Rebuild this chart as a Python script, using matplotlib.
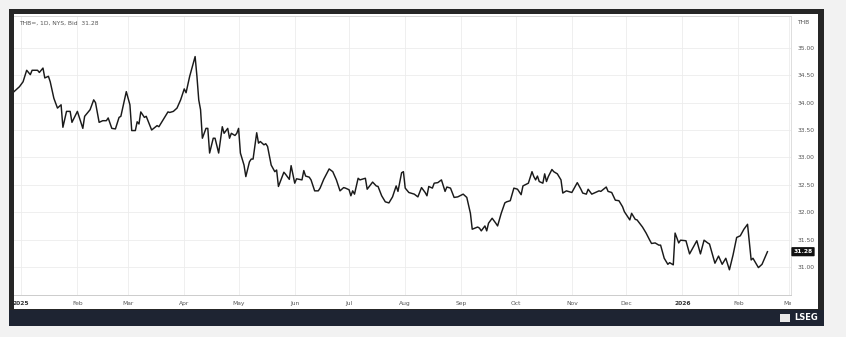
import pandas as pd
import matplotlib
matplotlib.use("Agg")
import matplotlib.pyplot as plt
from matplotlib.patches import Rectangle
from matplotlib.transforms import Bbox, TransformedBbox

# THB= daily bid
dates = [
    "2024-12-28", "2024-12-31", "2025-01-02", "2025-01-04", "2025-01-06", "2025-01-07", "2025-01-10", "2025-01-11", "2025-01-13", "2025-01-14",
    "2025-01-16", "2025-01-17", "2025-01-19", "2025-01-21", "2025-01-23", "2025-01-24", "2025-01-26", "2025-01-28", "2025-01-29", "2025-02-01",
    "2025-02-04", "2025-02-05", "2025-02-08", "2025-02-10", "2025-02-11", "2025-02-13", "2025-02-15", "2025-02-17", "2025-02-18", "2025-02-20",
    "2025-02-22", "2025-02-24", "2025-02-25", "2025-02-28", "2025-03-02", "2025-03-03", "2025-03-05", "2025-03-06", "2025-03-07", "2025-03-08",
    "2025-03-10", "2025-03-11", "2025-03-14", "2025-03-17", "2025-03-18", "2025-03-21", "2025-03-23", "2025-03-24", "2025-03-26", "2025-03-28",
    "2025-03-30", "2025-04-01", "2025-04-02", "2025-04-04", "2025-04-07", "2025-04-08", "2025-04-09", "2025-04-10", "2025-04-11", "2025-04-13",
    "2025-04-14", "2025-04-15", "2025-04-17", "2025-04-18", "2025-04-20", "2025-04-22", "2025-04-23", "2025-04-25", "2025-04-26", "2025-04-27",
    "2025-04-29", "2025-04-30", "2025-05-01", "2025-05-02", "2025-05-04", "2025-05-05", "2025-05-07", "2025-05-08", "2025-05-09", "2025-05-11",
    "2025-05-12", "2025-05-13", "2025-05-15", "2025-05-16", "2025-05-17", "2025-05-19", "2025-05-21", "2025-05-22", "2025-05-23", "2025-05-26",
    "2025-05-27", "2025-05-29", "2025-05-30", "2025-06-01", "2025-06-02", "2025-06-05", "2025-06-06", "2025-06-07", "2025-06-09", "2025-06-10",
    "2025-06-12", "2025-06-14", "2025-06-15", "2025-06-17", "2025-06-20", "2025-06-22", "2025-06-24", "2025-06-26", "2025-06-28", "2025-06-29",
    "2025-07-01", "2025-07-02", "2025-07-03", "2025-07-04", "2025-07-06", "2025-07-07", "2025-07-10", "2025-07-11", "2025-07-14", "2025-07-16",
    "2025-07-17", "2025-07-19", "2025-07-21", "2025-07-23", "2025-07-25", "2025-07-27", "2025-07-28", "2025-07-30", "2025-07-31", "2025-08-01",
    "2025-08-03", "2025-08-06", "2025-08-08", "2025-08-10", "2025-08-12", "2025-08-13", "2025-08-14", "2025-08-16", "2025-08-17", "2025-08-19",
    "2025-08-21", "2025-08-23", "2025-08-24", "2025-08-26", "2025-08-28", "2025-08-30", "2025-09-02", "2025-09-04", "2025-09-06", "2025-09-07",
    "2025-09-10", "2025-09-11", "2025-09-12", "2025-09-14", "2025-09-15", "2025-09-16", "2025-09-18", "2025-09-20", "2025-09-21", "2025-09-23",
    "2025-09-25", "2025-09-26", "2025-09-28", "2025-09-30", "2025-10-02", "2025-10-04", "2025-10-05", "2025-10-08", "2025-10-10", "2025-10-11",
    "2025-10-12", "2025-10-13", "2025-10-14", "2025-10-16", "2025-10-17", "2025-10-18", "2025-10-19", "2025-10-21", "2025-10-22", "2025-10-24",
    "2025-10-26", "2025-10-27", "2025-10-29", "2025-11-01", "2025-11-04", "2025-11-06", "2025-11-07", "2025-11-09", "2025-11-10", "2025-11-12",
    "2025-11-14", "2025-11-16", "2025-11-17", "2025-11-20", "2025-11-21", "2025-11-23", "2025-11-25", "2025-11-27", "2025-11-29", "2025-11-30",
    "2025-12-03", "2025-12-04", "2025-12-06", "2025-12-07", "2025-12-10", "2025-12-12", "2025-12-14", "2025-12-15", "2025-12-17", "2025-12-19",
    "2025-12-20", "2025-12-22", "2025-12-24", "2025-12-25", "2025-12-27", "2025-12-28", "2025-12-30", "2025-12-31", "2026-01-03", "2026-01-05",
    "2026-01-09", "2026-01-11", "2026-01-13", "2026-01-15", "2026-01-16", "2026-01-19", "2026-01-21", "2026-01-23", "2026-01-25", "2026-01-27",
    "2026-01-29", "2026-01-31", "2026-02-02", "2026-02-04", "2026-02-06", "2026-02-08", "2026-02-09", "2026-02-12", "2026-02-14", "2026-02-17",
]
bid = [
    34.20, 34.29, 34.38, 34.59, 34.51, 34.59, 34.59, 34.55, 34.63, 34.45,
    34.48, 34.38, 34.08, 33.90, 33.96, 33.55, 33.84, 33.84, 33.64, 33.84,
    33.53, 33.75, 33.87, 34.05, 34.00, 33.64, 33.67, 33.67, 33.72, 33.53,
    33.52, 33.73, 33.75, 34.20, 33.96, 33.49, 33.49, 33.65, 33.61, 33.83,
    33.73, 33.75, 33.50, 33.58, 33.56, 33.72, 33.83, 33.82, 33.84, 33.90,
    34.05, 34.25, 34.18, 34.48, 34.84, 34.48, 34.05, 33.87, 33.35, 33.53,
    33.53, 33.08, 33.35, 33.35, 33.08, 33.56, 33.44, 33.53, 33.35, 33.44,
    33.40, 33.44, 33.53, 33.08, 32.86, 32.65, 32.92, 32.97, 32.97, 33.45,
    33.26, 33.29, 33.23, 33.25, 33.20, 32.86, 32.74, 32.77, 32.47, 32.73,
    32.69, 32.60, 32.85, 32.53, 32.61, 32.59, 32.76, 32.66, 32.64, 32.59,
    32.39, 32.39, 32.44, 32.60, 32.79, 32.74, 32.59, 32.39, 32.45, 32.44,
    32.41, 32.30, 32.39, 32.33, 32.62, 32.59, 32.62, 32.42, 32.55, 32.48,
    32.47, 32.30, 32.19, 32.17, 32.28, 32.48, 32.38, 32.72, 32.74, 32.44,
    32.36, 32.33, 32.28, 32.45, 32.36, 32.30, 32.47, 32.44, 32.53, 32.54,
    32.59, 32.38, 32.46, 32.44, 32.27, 32.28, 32.33, 32.27, 31.98, 31.69,
    31.73, 31.71, 31.66, 31.75, 31.66, 31.80, 31.89, 31.80, 31.75, 31.98,
    32.17, 32.19, 32.21, 32.44, 32.42, 32.32, 32.48, 32.53, 32.74, 32.65,
    32.59, 32.66, 32.56, 32.53, 32.70, 32.56, 32.65, 32.78, 32.74, 32.70,
    32.59, 32.35, 32.39, 32.36, 32.54, 32.42, 32.35, 32.33, 32.42, 32.33,
    32.36, 32.39, 32.38, 32.46, 32.38, 32.36, 32.22, 32.21, 32.10, 32.01,
    31.86, 31.98, 31.87, 31.86, 31.73, 31.62, 31.49, 31.43, 31.44, 31.40,
    31.40, 31.16, 31.05, 31.08, 31.04, 31.62, 31.44, 31.49, 31.48, 31.24,
    31.48, 31.24, 31.49, 31.44, 31.42, 31.07, 31.20, 31.05, 31.16, 30.95,
    31.22, 31.54, 31.57, 31.69, 31.78, 31.13, 31.16, 30.99, 31.05, 31.28,
]
month_ticks = ["2025-01-01", "2025-02-01", "2025-03-01", "2025-04-01", "2025-05-01", "2025-06-01", "2025-07-01",
               "2025-08-01", "2025-09-01", "2025-10-01", "2025-11-01", "2025-12-01", "2026-01-01", "2026-02-01", "2026-03-01"]
month_labels = ["2025", "Feb", "Mar", "Apr", "May", "Jun", "Jul", "Aug", "Sep", "Oct", "Nov", "Dec", "2026", "Feb", "Mar"]
price_ticks = [31.0, 31.5, 32.0, 32.5, 33.0, 33.5, 34.0, 34.5, 35.0]
last_price = 31.28
title_text = "THB=, 1D, NYS, Bid  31.28"

W, H = 846, 337
fig = plt.figure(figsize=(W / 100, H / 100), dpi=100, facecolor="#f2f2f2")


def box(x0, y0, x1, y1, color, z=-10):
    # rectangle given in pixel coordinates, origin top-left
    fig.add_artist(Rectangle((x0 / W, 1 - y1 / H), (x1 - x0) / W, (y1 - y0) / H,
                             transform=fig.transFigure, facecolor=color, edgecolor="none", zorder=z))


box(9, 9, 824, 326, "#262626")
box(9, 310, 824, 326, "#1e2432")
box(14, 14, 818, 309, "white")

ax = fig.add_axes([14 / W, 1 - 295 / H, (791 - 14) / W, (295 - 16) / H])
ax.set_zorder(5)
ax.set_facecolor("white")

d = pd.to_datetime(dates)
ax.plot(d, bid, color="#1a1a1a", lw=1.05, solid_joinstyle="round", zorder=3)

ax.set_xlim(pd.Timestamp("2024-12-28"), pd.Timestamp("2026-03-02"))
ax.set_ylim(30.49, 35.58)

ax.set_xticks(pd.to_datetime(month_ticks))
ax.set_xticklabels(month_labels)
ax.set_yticks(price_ticks)
ax.set_yticklabels([f"{p:.2f}" for p in price_ticks])
ax.yaxis.tick_right()
ax.tick_params(axis="both", length=0, labelsize=4.3, labelcolor="#555555")
ax.tick_params(axis="x", pad=4)
ax.tick_params(axis="y", pad=5)
ax.grid(True, color="#ececec", lw=0.6, zorder=0)

clip = TransformedBbox(Bbox([[0, -0.2], [1, 1]]), ax.transAxes)
for lbl in ax.get_xticklabels():
    lbl.set_clip_on(True)
    lbl.set_clip_box(clip)
    if lbl.get_text().startswith("20"):
        lbl.set_fontweight("bold")
        lbl.set_color("#333333")

ax.spines["left"].set_visible(False)
ax.spines["top"].set_color("#d6d6d6")
ax.spines["bottom"].set_color("#cccccc")
ax.spines["right"].set_color("#dddddd")
for side in ["top", "bottom", "right"]:
    ax.spines[side].set_linewidth(0.7)

# header texts
fig.text(19 / W, 1 - 23 / H, title_text, fontsize=4.3, color="#555555", va="center", ha="left", zorder=6)
fig.text(803 / W, 1 - 23 / H, "THB", fontsize=4.3, color="#555555", va="center", ha="center", zorder=6)

# last price tag
ax.annotate(f"{last_price:.2f}", xy=(1, last_price), xycoords=("axes fraction", "data"),
            xytext=(12, 0), textcoords="offset pixels", ha="center", va="center",
            fontsize=4.3, color="white", fontweight="bold", annotation_clip=False,
            bbox=dict(boxstyle="round,pad=0.35,rounding_size=0.15", fc="#111111", ec="none"))

# footer logo
fig.text(818 / W, 1 - 318 / H, "LSEG", fontsize=6, color="white", fontweight="bold",
         va="center", ha="right", zorder=6)
box(780, 314, 790, 322, "#e8e8e8", z=6)

fig.savefig("out.png", dpi=100, facecolor=fig.get_facecolor())
